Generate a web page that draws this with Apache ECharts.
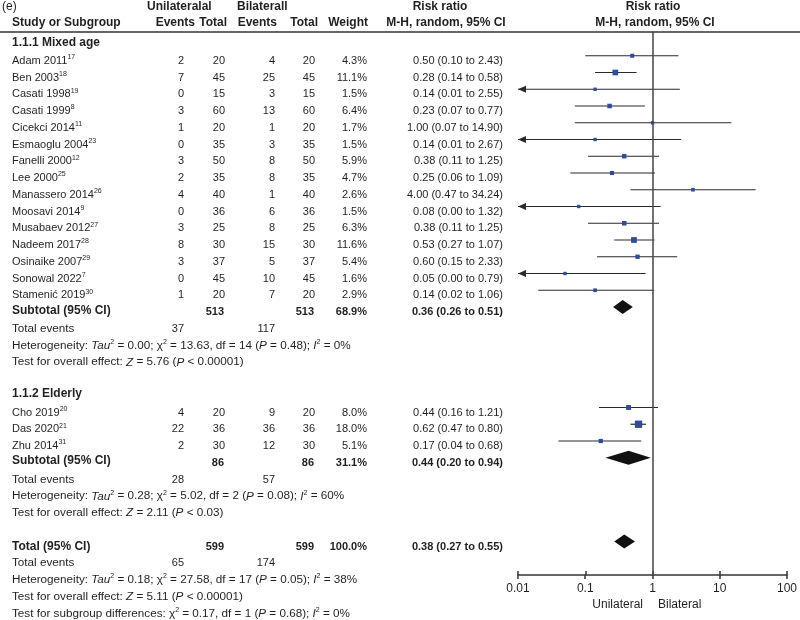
<!DOCTYPE html>
<html>
<head>
<meta charset="utf-8">
<title>Forest plot</title>
<script src="https://cdn.jsdelivr.net/npm/echarts@6.0.0/dist/echarts.min.js"></script>
<style>
  html, body { margin: 0; padding: 0; background: #fff; }
  #main { width: 800px; height: 620px; }
</style>
</head>
<body>
<div id="main"></div>
<script>
// ---- data ----
var headerTop = ['(e)', 'Unilateralal', 'Bilaterall', 'Risk ratio', 'Risk ratio'];
var headerSub = ['Study or Subgroup', 'Events', 'Total', 'Events', 'Total', 'Weight',
                 'M-H, random, 95% CI', 'M-H, random, 95% CI'];

var mixedNames = ['Adam 2011', 'Ben 2003', 'Casati 1998', 'Casati 1999', 'Cicekci 2014',
  'Esmaoglu 2004', 'Fanelli 2000', 'Lee 2000', 'Manassero 2014', 'Moosavi 2014',
  'Musabaev 2012', 'Nadeem 2017', 'Osinaike 2007', 'Sonowal 2022', 'Stamenić 2019'];
var mixedRefs = ['17', '18', '19', '8', '11', '23', '12', '25', '26', '9', '27', '28', '29', '7', '30'];
var mixedUniEvents = [2, 7, 0, 3, 1, 0, 3, 2, 4, 0, 3, 8, 3, 0, 1];
var mixedUniTotal = [20, 45, 15, 60, 20, 35, 50, 35, 40, 36, 25, 30, 37, 45, 20];
var mixedBiEvents = [4, 25, 3, 13, 1, 3, 8, 8, 1, 6, 8, 15, 5, 10, 7];
var mixedBiTotal = [20, 45, 15, 60, 20, 35, 50, 35, 40, 36, 25, 30, 37, 45, 20];
var mixedWeight = [4.3, 11.1, 1.5, 6.4, 1.7, 1.5, 5.9, 4.7, 2.6, 1.5, 6.3, 11.6, 5.4, 1.6, 2.9];
var mixedRR = [0.50, 0.28, 0.14, 0.23, 1.00, 0.14, 0.38, 0.25, 4.00, 0.08, 0.38, 0.53, 0.60, 0.05, 0.14];
var mixedLow = [0.10, 0.14, 0.01, 0.07, 0.07, 0.01, 0.11, 0.06, 0.47, 0.00, 0.11, 0.27, 0.15, 0.00, 0.02];
var mixedHigh = [2.43, 0.58, 2.55, 0.77, 14.90, 2.67, 1.25, 1.09, 34.24, 1.32, 1.25, 1.07, 2.33, 0.79, 1.06];

var elderlyNames = ['Cho 2019', 'Das 2020', 'Zhu 2014'];
var elderlyRefs = ['20', '21', '31'];
var elderlyUniEvents = [4, 22, 2];
var elderlyUniTotal = [20, 36, 30];
var elderlyBiEvents = [9, 36, 12];
var elderlyBiTotal = [20, 36, 30];
var elderlyWeight = [8.0, 18.0, 5.1];
var elderlyRR = [0.44, 0.62, 0.17];
var elderlyLow = [0.16, 0.47, 0.04];
var elderlyHigh = [1.21, 0.80, 0.68];

var subgroupTitles = ['1.1.1 Mixed age', '1.1.2 Elderly'];
var subUniTotal = [513, 86];
var subBiTotal = [513, 86];
var subWeight = [68.9, 31.1];
var subRR = [0.36, 0.44];
var subLow = [0.26, 0.20];
var subHigh = [0.51, 0.94];
var subUniEvents = [37, 28];
var subBiEvents = [117, 57];

var overallTotals = [599, 599];
var overallWeight = 100.0;
var overallCI = [0.38, 0.27, 0.55];
var overallEvents = [65, 174];

// heterogeneity / overall effect: [mixed, elderly, overall]
var hetTau = [0.00, 0.28, 0.18];
var hetChi = [13.63, 5.02, 27.58];
var hetDf = [14, 2, 17];
var hetP = [0.48, 0.08, 0.05];
var hetI2 = [0, 60, 38];
var effectZ = [5.76, 2.11, 5.11];
var effectP = ['0.00001', '0.03', '0.00001'];
var subgroupDiff = [0.17, 1, 0.68, 0]; // chi2, df, P, I2

var xTickLabels = ['0.01', '0.1', '1', '10', '100'];
var directionLabels = ['Unilateral', 'Bilateral'];

// ---- layout ----
var ROW_H = 16.75, TEXT_Y0 = 44, PLOT_Y0 = 39;
var PLOT_TOP = 32, PLOT_BOTTOM = 45, PLOT_LEFT = 518, PLOT_RIGHT = 13;
var X_MIN = 0.01, X_MAX = 100;
var col = { name: 12, uniE: 184, uniT: 225, biE: 275, biT: 315, wt: 367, ci: 503 };
var FAM = '"Liberation Sans", Arial, Helvetica, sans-serif';
var FONTS = {
  n: '11px ' + FAM,
  t: '11.7px ' + FAM,
  b: 'bold 11px ' + FAM,
  h: 'bold 12px ' + FAM,
  e: '12px ' + FAM
};
var INK = '#231f20';
var RICH = {
  s: { font: '7px ' + FAM, lineHeight: 8, verticalAlign: 'top', fill: INK },
  i: { font: 'italic 11.7px ' + FAM, lineHeight: 14, fill: INK }
};

var groups = [
  { names: mixedNames, refs: mixedRefs, ue: mixedUniEvents, ut: mixedUniTotal, be: mixedBiEvents,
    bt: mixedBiTotal, w: mixedWeight, rr: mixedRR, lo: mixedLow, hi: mixedHigh },
  { names: elderlyNames, refs: elderlyRefs, ue: elderlyUniEvents, ut: elderlyUniTotal, be: elderlyBiEvents,
    bt: elderlyBiTotal, w: elderlyWeight, rr: elderlyRR, lo: elderlyLow, hi: elderlyHigh }
];

var cells = [], studies = [], diamonds = [];
function cell(x, row, text, align, font) {
  cells.push({ value: [x, row], text: text, align: align || 'right', font: font || 'n' });
}
function ciText(r, l, h) {
  return r.toFixed(2) + ' (' + l.toFixed(2) + ' to ' + h.toFixed(2) + ')';
}
function hetText(k) {
  return 'Heterogeneity: {i|Tau}{s|2} = ' + hetTau[k].toFixed(2) + '; χ{s|2} = ' + hetChi[k].toFixed(2) +
    ', df = ' + hetDf[k] + ' ({i|P} = ' + hetP[k].toFixed(2) + '); {i|I}{s|2} = ' + hetI2[k] + '%';
}
function effectText(k) {
  return 'Test for overall effect: {i|Z} = ' + effectZ[k].toFixed(2) + ' ({i|P} < ' + effectP[k] + ')';
}

// headers
cell(2, -2.25, headerTop[0], 'left', 'e');
cell(147, -2.25, headerTop[1], 'left', 'h');
cell(237, -2.25, headerTop[2], 'left', 'h');
cell(440, -2.25, headerTop[3], 'center', 'h');
cell(653, -2.25, headerTop[4], 'center', 'h');
cell(col.name, -1.25, headerSub[0], 'left', 'h');
cell(195, -1.25, headerSub[1], 'right', 'h');
cell(227, -1.25, headerSub[2], 'right', 'h');
cell(277, -1.25, headerSub[3], 'right', 'h');
cell(318, -1.25, headerSub[4], 'right', 'h');
cell(368, -1.25, headerSub[5], 'right', 'h');
cell(446, -1.25, headerSub[6], 'center', 'h');
cell(655, -1.25, headerSub[7], 'center', 'h');

var row = 0;
groups.forEach(function (g, k) {
  cell(col.name, row - 0.1, subgroupTitles[k], 'left', 'h');
  g.names.forEach(function (n, i) {
    row += 1;
    cell(col.name, row, n + '{s|' + g.refs[i] + '}', 'left');
    cell(col.uniE, row, String(g.ue[i]));
    cell(col.uniT, row, String(g.ut[i]));
    cell(col.biE, row, String(g.be[i]));
    cell(col.biT, row, String(g.bt[i]));
    cell(col.wt, row, g.w[i].toFixed(1) + '%');
    cell(col.ci, row, ciText(g.rr[i], g.lo[i], g.hi[i]));
    studies.push([g.rr[i], row, g.lo[i], g.hi[i], g.w[i]]);
  });
  row += 1;
  cell(col.name, row - 0.1, 'Subtotal (95% CI)', 'left', 'h');
  cell(col.uniT - 1, row, String(subUniTotal[k]), 'right', 'b');
  cell(col.biT - 1, row, String(subBiTotal[k]), 'right', 'b');
  cell(col.wt, row, subWeight[k].toFixed(1) + '%', 'right', 'b');
  cell(col.ci, row, ciText(subRR[k], subLow[k], subHigh[k]), 'right', 'b');
  diamonds.push([subRR[k], row, subLow[k], subHigh[k]]);
  row += 1;
  cell(col.name, row, 'Total events', 'left', 't');
  cell(col.uniE, row, String(subUniEvents[k]));
  cell(col.biE, row, String(subBiEvents[k]));
  row += 1;
  cell(col.name, row, hetText(k), 'left', 't');
  row += 1;
  cell(col.name, row, effectText(k), 'left', 't');
  row += 2;
});

// overall
cell(col.name, row, 'Total (95% CI)', 'left', 'h');
cell(col.uniT - 1, row, String(overallTotals[0]), 'right', 'b');
cell(col.biT - 1, row, String(overallTotals[1]), 'right', 'b');
cell(col.wt, row, overallWeight.toFixed(1) + '%', 'right', 'b');
cell(col.ci, row, ciText(overallCI[0], overallCI[1], overallCI[2]), 'right', 'b');
diamonds.push([overallCI[0], row, overallCI[1], overallCI[2]]);
row += 1;
cell(col.name, row, 'Total events', 'left', 't');
cell(col.uniE, row, String(overallEvents[0]));
cell(col.biE, row, String(overallEvents[1]));
row += 1;
cell(col.name, row, hetText(2), 'left', 't');
row += 1;
cell(col.name, row, effectText(2), 'left', 't');
row += 1;
cell(col.name, row, 'Test for subgroup differences: χ{s|2} = ' + subgroupDiff[0].toFixed(2) + ', df = ' +
  subgroupDiff[1] + ' ({i|P} = ' + subgroupDiff[2].toFixed(2) + '); {i|I}{s|2} = ' + subgroupDiff[3] + '%', 'left', 't');

// direction labels under the axis
cell(643, 33.5, directionLabels[0], 'right', 'e');
cell(658, 33.5, directionLabels[1], 'left', 'e');

// ---- chart ----
var myChart = echarts.init(document.getElementById('main'));

function renderText(params, api) {
  var c = cells[params.dataIndex];
  var p = api.coord(c.value);
  return {
    type: 'text',
    style: {
      text: c.text, x: p[0], y: p[1], align: c.align, verticalAlign: 'middle',
      font: FONTS[c.font], fill: INK, lineHeight: 14, rich: RICH
    }
  };
}

function renderCI(params, api) {
  var y = api.value(1), lo = api.value(2), hi = api.value(3);
  var a = api.coord([Math.max(lo, X_MIN), y]);
  var b = api.coord([Math.min(hi, X_MAX), y]);
  var children = [{
    type: 'line',
    shape: { x1: a[0], y1: a[1], x2: b[0], y2: b[1] },
    style: { stroke: '#2a2a2a', lineWidth: 1.2 }
  }];
  if (lo <= X_MIN) {
    children.push({
      type: 'polygon',
      shape: { points: [[a[0], a[1]], [a[0] + 8, a[1] - 3.5], [a[0] + 8, a[1] + 3.5]] },
      style: { fill: '#2a2a2a' }
    });
  }
  return { type: 'group', children: children };
}

function renderDiamond(params, api) {
  var y = api.value(1);
  var c = api.coord([api.value(0), y]);
  var l = api.coord([api.value(2), y]);
  var r = api.coord([api.value(3), y]);
  return {
    type: 'polygon',
    shape: { points: [[l[0], c[1]], [c[0], c[1] - 7], [r[0], c[1]], [c[0], c[1] + 7]] },
    style: { fill: '#111' }
  };
}

var plotRowMin = (PLOT_TOP - PLOT_Y0) / ROW_H;
var plotRowMax = (620 - PLOT_BOTTOM - PLOT_Y0) / ROW_H;

var option = {
  animation: false,
  backgroundColor: '#fff',
  grid: [
    { left: 0, right: 0, top: 0, bottom: 0 },
    { left: PLOT_LEFT, right: PLOT_RIGHT, top: PLOT_TOP, bottom: PLOT_BOTTOM },
    { left: PLOT_LEFT, right: PLOT_RIGHT, top: PLOT_TOP, bottom: PLOT_BOTTOM }
  ],
  xAxis: [
    { gridIndex: 0, type: 'value', min: 0, max: 800, show: false },
    {
      gridIndex: 1, type: 'log', logBase: 10, min: X_MIN, max: X_MAX, position: 'bottom',
      axisLine: { onZero: false, lineStyle: { color: '#333', width: 1.5 } },
      axisTick: { length: 4, lineStyle: { color: '#333', width: 1.5 } },
      minorTick: { show: false },
      splitLine: { show: false },
      axisLabel: {
        color: INK, fontSize: 12, fontFamily: FAM, margin: 8,
        formatter: function (v) { return xTickLabels[Math.round(Math.log10(v)) + 2]; }
      }
    },
    {
      gridIndex: 2, type: 'log', logBase: 10, min: X_MIN, max: X_MAX, position: 'bottom',
      axisLine: { show: false, onZero: false },
      axisTick: { inside: true, length: 4, lineStyle: { color: '#333', width: 1.5 } },
      splitLine: { show: false },
      axisLabel: { show: false }
    }
  ],
  yAxis: [
    { gridIndex: 0, type: 'value', inverse: true, min: -TEXT_Y0 / ROW_H, max: (620 - TEXT_Y0) / ROW_H, show: false },
    { gridIndex: 1, type: 'value', inverse: true, min: plotRowMin, max: plotRowMax, show: false },
    { gridIndex: 2, type: 'value', min: 0, max: 1, show: false }
  ],
  graphic: [{
    type: 'line', shape: { x1: 0, y1: PLOT_TOP, x2: 800, y2: PLOT_TOP },
    style: { stroke: '#333', lineWidth: 1.5 }, silent: true
  }],
  series: [
    {
      type: 'custom', xAxisIndex: 0, yAxisIndex: 0, renderItem: renderText,
      data: cells.map(function (c) { return c.value; }), clip: false, silent: true
    },
    {
      type: 'custom', xAxisIndex: 1, yAxisIndex: 1, renderItem: renderCI,
      encode: { x: 0, y: 1 }, data: studies, clip: false, silent: true, z: 3
    },
    {
      type: 'scatter', xAxisIndex: 1, yAxisIndex: 1, symbol: 'rect',
      symbolSize: function (v) { return 3 + v[4] * 0.24; },
      itemStyle: { color: '#2f4a9e', opacity: 1 },
      data: studies, silent: true, z: 4,
      markLine: {
        silent: true, symbol: 'none', label: { show: false },
        lineStyle: { color: '#444', width: 1.5, type: 'solid' },
        data: [{ xAxis: 1 }]
      }
    },
    {
      type: 'custom', xAxisIndex: 1, yAxisIndex: 1, renderItem: renderDiamond,
      encode: { x: 0, y: 1 }, data: diamonds, clip: false, silent: true, z: 5
    }
  ]
};
myChart.setOption(option);
</script>
</body>
</html>
